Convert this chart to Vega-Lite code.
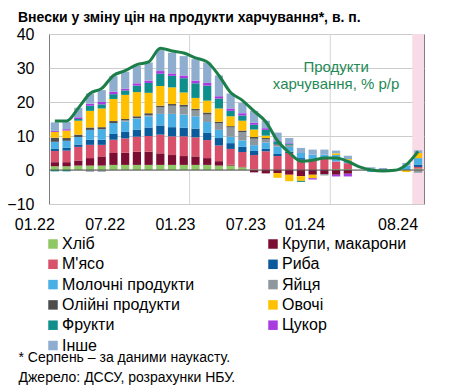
{
  "$schema": "https://vega.github.io/schema/vega-lite/v6.json",
  "autosize": "none",
  "width": 375,
  "height": 170,
  "padding": {"left": 49, "top": 34, "right": 32, "bottom": 182},
  "title": {
    "text": "Внески у зміну цін на продукти харчування*, в. п.",
    "anchor": "start",
    "frame": "group",
    "dx": -31,
    "dy": 13,
    "offset": 3,
    "baseline": "alphabetic",
    "fontSize": 14,
    "fontWeight": "bold",
    "font": "Liberation Sans",
    "color": "#000000"
  },
  "datasets": {
    "cats": [
      {"c": "Хліб", "o": 1},
      {"c": "Крупи, макарони", "o": 2},
      {"c": "Мясо", "o": 3},
      {"c": "Риба", "o": 4},
      {"c": "Молочні продукти", "o": 5},
      {"c": "Яйця", "o": 6},
      {"c": "Олійні продукти", "o": 7},
      {"c": "Овочі", "o": 8},
      {"c": "Фрукти", "o": 9},
      {"c": "Цукор", "o": 10},
      {"c": "Інше", "o": 11}
    ],
    "main": [
      {"m": "01.22", "food": 14.4, "Хліб": 1.1, "Крупи, макарони": 1.2, "Мясо": 3.3, "Риба": 0.6, "Молочні продукти": 2.1, "Олійні продукти": 1.2, "Овочі": 1.7, "Фрукти": -0.4, "Цукор": 0.3, "Інше": 2.5},
      {"m": "02.22", "food": 14.4, "Хліб": 1.1, "Крупи, макарони": 1.2, "Мясо": 3.4, "Риба": 0.8, "Молочні продукти": 2.1, "Олійні продукти": 0.8, "Овочі": 2.2, "Фрукти": -0.4, "Цукор": 0.4, "Інше": 2.1},
      {"m": "03.22", "food": 18.2, "Хліб": 1.3, "Крупи, макарони": 1.5, "Мясо": 4.0, "Риба": 0.7, "Молочні продукти": 2.2, "Олійні продукти": 0.7, "Овочі": 4.1, "Фрукти": 0.5, "Цукор": 0.5, "Інше": 2.8},
      {"m": "04.22", "food": 22.5, "Хліб": 1.3, "Крупи, макарони": 2.2, "Мясо": 3.9, "Риба": 1.5, "Молочні продукти": 2.9, "Яйця": -0.5, "Олійні продукти": 0.7, "Овочі": 4.9, "Фрукти": 1.5, "Цукор": 0.6, "Інше": 3.0},
      {"m": "05.22", "food": 24.0, "Хліб": 1.3, "Крупи, макарони": 2.7, "Мясо": 3.4, "Риба": 1.5, "Молочні продукти": 3.1, "Яйця": -0.5, "Олійні продукти": 0.6, "Овочі": 5.5, "Фрукти": 1.2, "Цукор": 0.7, "Інше": 3.5},
      {"m": "06.22", "food": 27.8, "Хліб": 1.5, "Крупи, макарони": 3.5, "Мясо": 3.9, "Риба": 1.7, "Молочні продукти": 3.2, "Олійні продукти": 0.6, "Овочі": 6.5, "Фрукти": 1.4, "Цукор": 0.7, "Інше": 4.6},
      {"m": "07.22", "food": 29.2, "Хліб": 1.5, "Крупи, макарони": 3.6, "Мясо": 4.2, "Риба": 1.9, "Молочні продукти": 3.1, "Яйця": 0.3, "Олійні продукти": 0.4, "Овочі": 7.1, "Фрукти": 1.3, "Цукор": 0.5, "Інше": 5.0},
      {"m": "08.22", "food": 31.0, "Хліб": 1.5, "Крупи, макарони": 3.9, "Мясо": 4.4, "Риба": 2.1, "Молочні продукти": 3.2, "Яйця": 0.2, "Олійні продукти": 0.5, "Овочі": 7.1, "Фрукти": 1.9, "Цукор": 0.7, "Інше": 5.1},
      {"m": "09.22", "food": 31.8, "Хліб": 1.5, "Крупи, макарони": 3.9, "Мясо": 4.6, "Риба": 2.5, "Молочні продукти": 3.3, "Яйця": 0.3, "Олійні продукти": 0.6, "Овочі": 6.0, "Фрукти": 2.9, "Цукор": 0.7, "Інше": 5.3},
      {"m": "10.22", "food": 35.8, "Хліб": 1.5, "Крупи, макарони": 3.4, "Мясо": 5.5, "Риба": 2.7, "Молочні продукти": 3.4, "Яйця": 1.9, "Олійні продукти": 0.5, "Овочі": 5.8, "Фрукти": 3.6, "Цукор": 0.8, "Інше": 6.4},
      {"m": "11.22", "food": 35.0, "Хліб": 1.5, "Крупи, макарони": 2.9, "Мясо": 5.5, "Риба": 2.7, "Молочні продукти": 3.9, "Яйця": 2.4, "Олійні продукти": 0.5, "Овочі": 4.9, "Фрукти": 3.4, "Цукор": 0.7, "Інше": 6.1},
      {"m": "12.22", "food": 34.4, "Хліб": 1.5, "Крупи, макарони": 2.6, "Мясо": 5.8, "Риба": 2.5, "Молочні продукти": 3.9, "Яйця": 2.3, "Олійні продукти": 0.6, "Овочі": 3.6, "Фрукти": 4.2, "Цукор": 0.8, "Інше": 5.7},
      {"m": "01.23", "food": 33.0, "Хліб": 1.5, "Крупи, макарони": 2.5, "Мясо": 5.6, "Риба": 2.6, "Молочні продукти": 3.6, "Яйця": 1.7, "Олійні продукти": 0.5, "Овочі": 3.2, "Фрукти": 4.3, "Цукор": 0.8, "Інше": 6.3},
      {"m": "02.23", "food": 31.8, "Хліб": 1.5, "Крупи, макарони": 2.0, "Мясо": 5.3, "Риба": 2.1, "Молочні продукти": 3.2, "Яйця": 2.2, "Олійні продукти": 0.6, "Овочі": 3.5, "Фрукти": 4.4, "Цукор": 0.8, "Інше": 6.0},
      {"m": "03.23", "food": 27.8, "Хліб": 1.3, "Крупи, макарони": 1.3, "Мясо": 4.6, "Риба": 2.2, "Молочні продукти": 2.4, "Яйця": 1.9, "Олійні продукти": 0.5, "Овочі": 3.9, "Фрукти": 2.9, "Цукор": 0.7, "Інше": 6.1},
      {"m": "04.23", "food": 22.8, "Хліб": 1.3, "Крупи, макарони": 0.3, "Мясо": 4.6, "Риба": 1.7, "Молочні продукти": 1.9, "Яйця": 2.7, "Олійні продукти": 0.4, "Овочі": 2.9, "Фрукти": 1.6, "Цукор": 0.7, "Інше": 4.4},
      {"m": "05.23", "food": 20.5, "Хліб": 0.8, "Крупи, макарони": 0.1, "Мясо": 4.4, "Риба": 1.5, "Молочні продукти": 1.9, "Яйця": 2.4, "Олійні продукти": 0.5, "Овочі": 2.9, "Фрукти": 1.5, "Цукор": 0.7, "Інше": 3.0},
      {"m": "06.23", "food": 17.3, "Хліб": 0.2, "Крупи, макарони": -0.7, "Мясо": 4.2, "Риба": 1.2, "Молочні продукти": 1.7, "Яйця": 1.9, "Олійні продукти": 0.5, "Овочі": 2.2, "Фрукти": 1.4, "Цукор": 0.6, "Інше": 3.5},
      {"m": "07.23", "food": 14.2, "Крупи, макарони": -1.0, "Мясо": 5.5, "Риба": 0.7, "Молочні продукти": 1.9, "Яйця": 1.0, "Олійні продукти": 0.3, "Овочі": 0.7, "Фрукти": 1.7, "Цукор": 0.5, "Інше": 2.2},
      {"m": "08.23", "food": 8.6, "Крупи, макарони": -0.9, "Мясо": 4.1, "Риба": 0.6, "Молочні продукти": 2.2, "Яйця": 0.5, "Олійні продукти": 0.2, "Овочі": -1.4, "Фрукти": 0.8, "Цукор": 0.3, "Інше": 2.3},
      {"m": "09.23", "food": 5.1, "Крупи, макарони": -1.4, "Мясо": 5.0, "Риба": 0.4, "Молочні продукти": 1.4, "Яйця": 0.5, "Олійні продукти": 0.1, "Овочі": -1.9, "Фрукти": 0.3, "Цукор": 0.2, "Інше": 1.5},
      {"m": "10.23", "food": 2.6, "Крупи, макарони": -1.8, "Мясо": 3.0, "Риба": 0.5, "Молочні продукти": 1.5, "Овочі": -1.4, "Фрукти": -0.3, "Інше": 1.5},
      {"m": "11.23", "food": 2.9, "Крупи, макарони": -1.4, "Мясо": 3.2, "Молочні продукти": 1.3, "Овочі": -1.0, "Цукор": -0.4, "Інше": 1.5},
      {"m": "12.23", "food": 3.5, "Крупи, макарони": -1.2, "Мясо": 3.5, "Молочні продукти": 1.0, "Яйця": -0.4, "Інше": 1.5},
      {"m": "01.24", "food": 3.5, "Хліб": 0.3, "Крупи, макарони": -1.4, "Мясо": 2.2, "Молочні продукти": 1.9, "Овочі": 0.5, "Цукор": -0.5, "Інше": 0.8},
      {"m": "02.24", "food": 2.5, "Хліб": 0.3, "Крупи, макарони": -1.1, "Мясо": 1.7, "Молочні продукти": 0.8, "Овочі": 0.4, "Цукор": -0.8, "Інше": 1.0},
      {"m": "03.24", "food": 0.9},
      {"m": "04.24", "food": 0.0, "Молочні продукти": -0.6, "Цукор": 0.3, "Інше": 0.5},
      {"m": "05.24", "food": -0.3, "Молочні продукти": -0.5, "Цукор": 0.2, "Інше": 0.4},
      {"m": "06.24", "food": -0.1},
      {"m": "07.24", "food": 1.6, "Молочні продукти": 1.3, "Овочі": -0.6, "Інше": 0.8},
      {"m": "08.24", "food": 5.5, "Хліб": 0.4, "Мясо": 0.5, "Риба": 0.6, "Молочні продукти": 2.0, "Яйця": -0.8, "Овочі": 1.5, "Інше": 0.8}
    ]
  },
  "data": {"name": "main"},
  "layer": [
    {
      "data": {"values": [{"m": "08.24", "lo": -10, "hi": 40}]},
      "mark": {"type": "bar", "color": "#f9dbe7", "width": {"band": 1.4286}},
      "encoding": {
        "x": {"field": "m", "type": "ordinal"},
        "y": {"field": "lo", "type": "quantitative", "axis": {"values": [-10, 0, 10, 20, 30, 40], "title": null, "grid": true, "gridColor": "#cccccc", "labelOverlap": false, "labelFlush": false, "labelPadding": 15}},
        "y2": {"field": "hi"}
      }
    },
    {
      "data": {"values": [{"m": "01.23"}, {"m": "01.24"}]},
      "mark": {"type": "rule", "color": "#d4d4d4", "strokeWidth": 1},
      "encoding": {
        "x": {"field": "m", "type": "ordinal", "bandPosition": -0.2143}
      }
    },
    {
      "transform": [
        {"fold": ["Хліб", "Крупи, макарони", "Мясо", "Риба", "Молочні продукти", "Яйця", "Олійні продукти", "Овочі", "Фрукти", "Цукор", "Інше"], "as": ["c", "v"]},
        {"filter": "isValid(datum.v)"},
        {"lookup": "c", "from": {"data": {"name": "cats"}, "key": "c", "fields": ["o"]}}
      ],
      "mark": {"type": "bar"},
      "encoding": {
        "x": {
          "field": "m",
          "type": "ordinal",
          "scale": {
            "type": "band",
            "paddingInner": 0.3,
            "paddingOuter": 0.15,
            "domain": ["01.22","02.22","03.22","04.22","05.22","06.22","07.22","08.22","09.22","10.22","11.22","12.22","01.23","02.23","03.23","04.23","05.23","06.23","07.23","08.23","09.23","10.23","11.23","12.23","01.24","02.24","03.24","04.24","05.24","06.24","07.24","08.24"]
          },
          "axis": {
            "values": ["01.22", "07.22", "01.23", "07.23", "01.24", "08.24"],
            "labelAngle": 0,
            "labelPadding": 20,
            "labelOffset": {"condition": {"test": "datum.value === '01.24'", "value": -11}, "value": 0},
            "title": ["* Серпень – за даними наукасту.", "Джерело: ДССУ, розрахунки НБУ."],
            "titleX": -31,
            "titleY": 157,
            "titleAlign": "left",
            "titleAnchor": "start",
            "titleBaseline": "alphabetic",
            "titleFontSize": 14,
            "titleFontWeight": "normal",
            "titleColor": "#000000",
            "titleLineHeight": 20
          }
        },
        "y": {
          "field": "v",
          "type": "quantitative",
          "stack": "zero",
          "scale": {"domain": [-10, 40], "nice": false, "zero": false},
          "axis": {"values": [-10, 0, 10, 20, 30, 40], "title": null, "grid": true, "gridColor": "#cccccc", "labelOverlap": false, "labelFlush": false, "labelPadding": 15}
        },
        "color": {
          "field": "c",
          "type": "nominal",
          "scale": {
            "domain": ["Хліб", "Крупи, макарони", "Мясо", "Риба", "Молочні продукти", "Яйця", "Олійні продукти", "Овочі", "Фрукти", "Цукор", "Інше"],
            "range": ["#8fc765", "#7b0c32", "#d9506a", "#0a5a9c", "#4aafe4", "#8e979e", "#4d4d4d", "#ffc000", "#0e8f8c", "#a83ce0", "#8eadcf"]
          },
          "legend": {
            "title": null,
            "orient": "none",
            "direction": "horizontal",
            "legendX": -4,
            "legendY": 202,
            "columns": 2,
            "columnPadding": 70,
            "rowPadding": 4.3,
            "padding": 0,
            "symbolType": "square",
            "symbolSize": 90,
            "symbolStrokeWidth": 0,
            "labelFontSize": 16,
            "labelColor": "#000000",
            "labelOffset": 1,
            "labelLimit": 300,
            "labelExpr": "datum.label === 'Мясо' ? \"М'ясо\" : datum.label"
          }
        },
        "order": {"field": "o", "type": "quantitative", "sort": "ascending"}
      }
    },
    {
      "data": {"values": [{"z": 0}]},
      "mark": {"type": "rule", "color": "#595959", "strokeWidth": 1},
      "encoding": {
        "y": {"field": "z", "type": "quantitative", "axis": {"values": [-10, 0, 10, 20, 30, 40], "title": null, "grid": true, "gridColor": "#cccccc", "labelOverlap": false, "labelFlush": false, "labelPadding": 15}}
      }
    },
    {
      "mark": {"type": "line", "color": "#1c7f4a", "strokeWidth": 3, "interpolate": "monotone"},
      "encoding": {
        "x": {"field": "m", "type": "ordinal"},
        "y": {"field": "food", "type": "quantitative", "axis": {"values": [-10, 0, 10, 20, 30, 40], "title": null, "grid": true, "gridColor": "#cccccc", "labelOverlap": false, "labelFlush": false, "labelPadding": 15}}
      }
    },
    {
      "data": {"values": [
        {"m": "01.24", "y": 30.3, "t": "Продукти"},
        {"m": "01.24", "y": 25.4, "t": "харчування, % р/р"}
      ]},
      "mark": {"type": "text", "color": "#1f8a56", "fontSize": 15, "align": "center", "baseline": "middle"},
      "encoding": {
        "x": {"field": "m", "type": "ordinal"},
        "y": {"field": "y", "type": "quantitative", "axis": {"values": [-10, 0, 10, 20, 30, 40], "title": null, "grid": true, "gridColor": "#cccccc", "labelOverlap": false, "labelFlush": false, "labelPadding": 15}},
        "text": {"field": "t"}
      }
    }
  ],
  "config": {
    "font": "Liberation Sans",
    "view": {"stroke": "#7f7f7f", "strokeWidth": 1},
    "axis": {
      "labelFontSize": 16,
      "labelColor": "#000000",
      "ticks": false,
      "domain": false
    },
    "axisX": {
      "grid": false
    }
  }
}
